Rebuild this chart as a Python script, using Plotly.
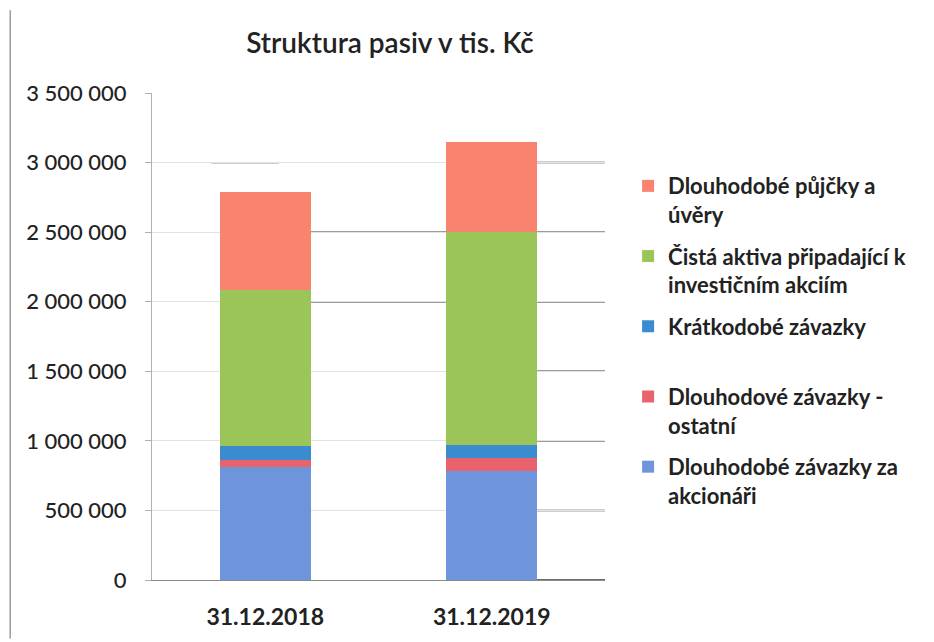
import plotly.graph_objects as go

# data (tis. Kč)
dates = ["31.12.2018", "31.12.2019"]
akcionari = [812000, 783000]          # Dlouhodobé závazky za akcionáři
ostatni = [50000, 94000]              # Dlouhodové závazky - ostatní
kratkodobe = [101000, 93000]          # Krátkodobé závazky
cista_aktiva = [1121000, 1531000]     # Čistá aktiva připadající k investičním akciím
pujcky = [704000, 647000]             # Dlouhodobé půjčky a úvěry

y_ticks = [0, 500000, 1000000, 1500000, 2000000, 2500000, 3000000, 3500000]

series = [
    ("Dlouhodobé závazky za<br>akcionáři", akcionari, "#6E94DC"),
    ("Dlouhodové závazky -<br>ostatní", ostatni, "#E9636E"),
    ("Krátkodobé závazky<br> ", kratkodobe, "#3B8BD0"),
    ("Čistá aktiva připadající k<br>investičním akciím", cista_aktiva, "#9CC559"),
    ("Dlouhodobé půjčky a<br>úvěry", pujcky, "#F8836E"),
]

fig = go.Figure()
for i, (name, vals, col) in enumerate(series):
    fig.add_trace(go.Bar(
        x=dates, y=vals, name=name, legendgroup=str(i),
        legendrank=1000 - i,   # top segment listed first
        marker=dict(color=col, line=dict(width=0)),
    ))

# darker scanned gridline fragments
dark = "#3a3a3a"
shapes = []
for v in y_ticks[:-1]:
    shapes.append(dict(type="line", xref="paper", yref="y", x0=0.85, x1=1.0,
                       y0=v, y1=v, line=dict(color=dark, width=1.5), layer="below"))
for v in [2000000, 2500000]:
    shapes.append(dict(type="line", xref="paper", yref="y", x0=0.35, x1=0.65,
                       y0=v, y1=v, line=dict(color=dark, width=1.5), layer="below"))
shapes.append(dict(type="line", xref="paper", yref="y", x0=0.13, x1=0.28,
                   y0=3000000, y1=3000000, line=dict(color=dark, width=1.2), layer="below"))
# left border of the chart
shapes.append(dict(type="line", xref="paper", yref="paper", x0=-0.313, x1=-0.313,
                   y0=-0.12, y1=1.17, line=dict(color="#9a9a9a", width=1.5)))

fig.update_layout(
    width=926, height=634,
    barmode="stack", bargap=0.6,
    separators=", ",
    paper_bgcolor="white", plot_bgcolor="white",
    margin=dict(l=144, r=329, t=85, b=62),
    font=dict(family="Lato, 'Open Sans', sans-serif", color="#222222"),
    title=dict(text="Struktura pasiv v tis. Kč", x=0.4125, xanchor="center",
               y=0.945, yanchor="middle", xref="container", yref="container",
               font=dict(size=28, color="#222222", weight=600)),
    legend=dict(x=1.051, xanchor="left", y=0.852, yanchor="top",
                traceorder="grouped", valign="top", tracegroupgap=10,
                itemwidth=30, font=dict(size=22, color="#222222", weight=700)),
    shapes=shapes,
    yaxis=dict(range=[0, 3500000], tickvals=y_ticks, tickformat=",d",
               showgrid=True, gridcolor="#e3e3e3", zeroline=False,
               showline=True, linecolor="#b0b0b0", ticks="outside", ticklen=6,
               tickcolor="#b0b0b0", ticklabelstandoff=14,
               tickfont=dict(size=22, color="#222222", weight=500)),
    xaxis=dict(showline=True, linecolor="#8a8a8a", ticks="", showgrid=False,
               ticklabelstandoff=16,
               tickfont=dict(size=23, color="#222222", weight=700)),
)

fig.write_html("out.html")
